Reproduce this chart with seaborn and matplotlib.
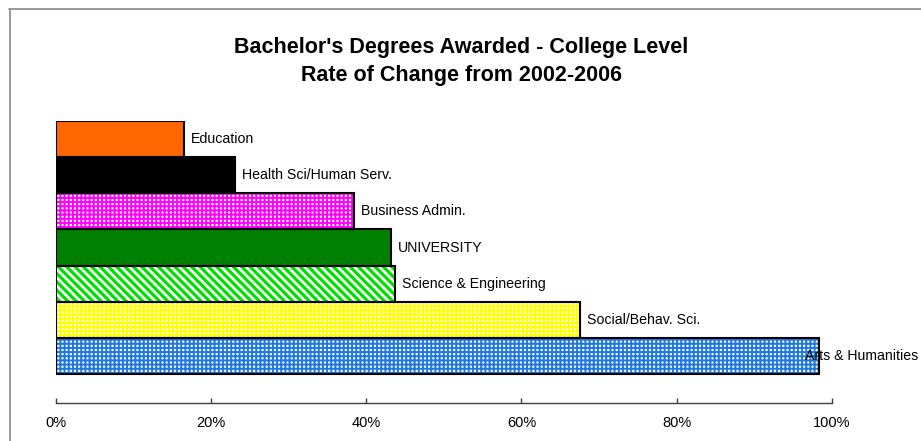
import matplotlib
matplotlib.use("Agg")
import matplotlib.pyplot as plt
from matplotlib.patches import Rectangle
from matplotlib.lines import Line2D
from matplotlib.ticker import FuncFormatter
import seaborn as sns
import pandas as pd

# Rate of change in bachelor's degrees awarded, 2002-2006 (percent)
categories = ["Education", "Health Sci/Human Serv.", "Business Admin.", "UNIVERSITY",
              "Science & Engineering", "Social/Behav. Sci.", "Arts & Humanities"]
rates = [16.5, 23.1, 38.5, 43.2, 43.7, 67.6, 98.3]
x_ticks = [0, 20, 40, 60, 80, 100]

# Fill, hatch and hatch colour for each bar
face_colors = ["#FF6600", "#000000", "#FFFFFF", "#008000", "#FFFFFF", "#FFFFFF", "#FFFFFF"]
hatches = [None, None, "++++", None, "\\\\\\\\", "++++", "++++"]
hatch_colors = [None, None, "#FF00FF", None, "#00E000", "#FFFF00", "#1E78E0"]
hatch_widths = [0, 0, 1.4, 0, 2.3, 1.4, 1.4]

sns.set_theme(style="white")
plt.rcParams["font.family"] = ["Liberation Sans", "DejaVu Sans"]
plt.rcParams["text.color"] = "black"

W, H = 921, 441
fig = plt.figure(figsize=(W / 100, H / 100), dpi=100)
ax = fig.add_axes([55.5 / W, 1 - 403 / H, (832 - 55.5) / W, (403 - 121) / H])

df = pd.DataFrame({"category": categories, "rate": rates})
sns.barplot(data=df, x="rate", y="category", order=categories, orient="h",
            width=1.0, color="#FFFFFF", ax=ax, errorbar=None)

bars = list(ax.patches)
for bar, fc, hatch, hc, hw in zip(bars, face_colors, hatches, hatch_colors, hatch_widths):
    bar.set_facecolor(fc)
    bar.set_linewidth(0)
    if hatch:
        bar.set_hatch(hatch)
        bar.set_edgecolor(hc)
        try:
            bar.set_hatch_linewidth(hw)
        except AttributeError:
            pass
    else:
        bar.set_edgecolor(fc)
    # black outline drawn on top of the hatched fill
    ax.add_patch(Rectangle(bar.get_xy(), bar.get_width(), bar.get_height(),
                           fill=False, edgecolor="black", linewidth=1.5, zorder=3))

ax.set_xlim(0, 100)
ax.set_ylim(7.3, -0.5)
ax.set_xticks(x_ticks)
ax.xaxis.set_major_formatter(FuncFormatter(lambda v, _: f"{v:.0f}%"))
ax.set_yticks([])
ax.set_xlabel("")
ax.set_ylabel("")
for side in ["left", "top", "right"]:
    ax.spines[side].set_visible(False)
ax.spines["bottom"].set_color("#404040")
ax.spines["bottom"].set_linewidth(1.0)
ax.tick_params(axis="x", direction="in", length=3.5, width=1.0, color="#404040",
               pad=9.5, labelsize=10.5, labelcolor="black", bottom=True)

# Category labels beside each bar end, kept inside the figure
fig.canvas.draw()
renderer = fig.canvas.get_renderer()
for i, (cat, val) in enumerate(zip(categories, rates)):
    t = ax.annotate(cat, xy=(val, i), xytext=(5.0, 0), textcoords="offset points",
                    ha="left", va="center", fontsize=10.2, color="black", zorder=4,
                    annotation_clip=False)
    bb = t.get_window_extent(renderer)
    overflow = bb.x1 - (W - 3)
    if overflow > 0:
        t.set_position((5.0 - overflow * 72 / 100, 0))

# Title
title_kw = dict(ha="center", va="center", fontsize=15.5, fontweight="bold", color="black")
fig.text(461 / W, 1 - 47.5 / H, "Bachelor's Degrees Awarded - College Level", **title_kw)
fig.text(461 / W, 1 - 75.5 / H, "Rate of Change from 2002-2006", **title_kw)

# Chart-area frame
frame_kw = dict(color="#888888", linewidth=1.2, transform=fig.transFigure)
fig.add_artist(Line2D([9 / W, 1], [1 - 8.5 / H, 1 - 8.5 / H], **frame_kw))
fig.add_artist(Line2D([9.5 / W, 9.5 / W], [0, 1 - 8.5 / H], **frame_kw))

fig.savefig("out.png", dpi=100)
